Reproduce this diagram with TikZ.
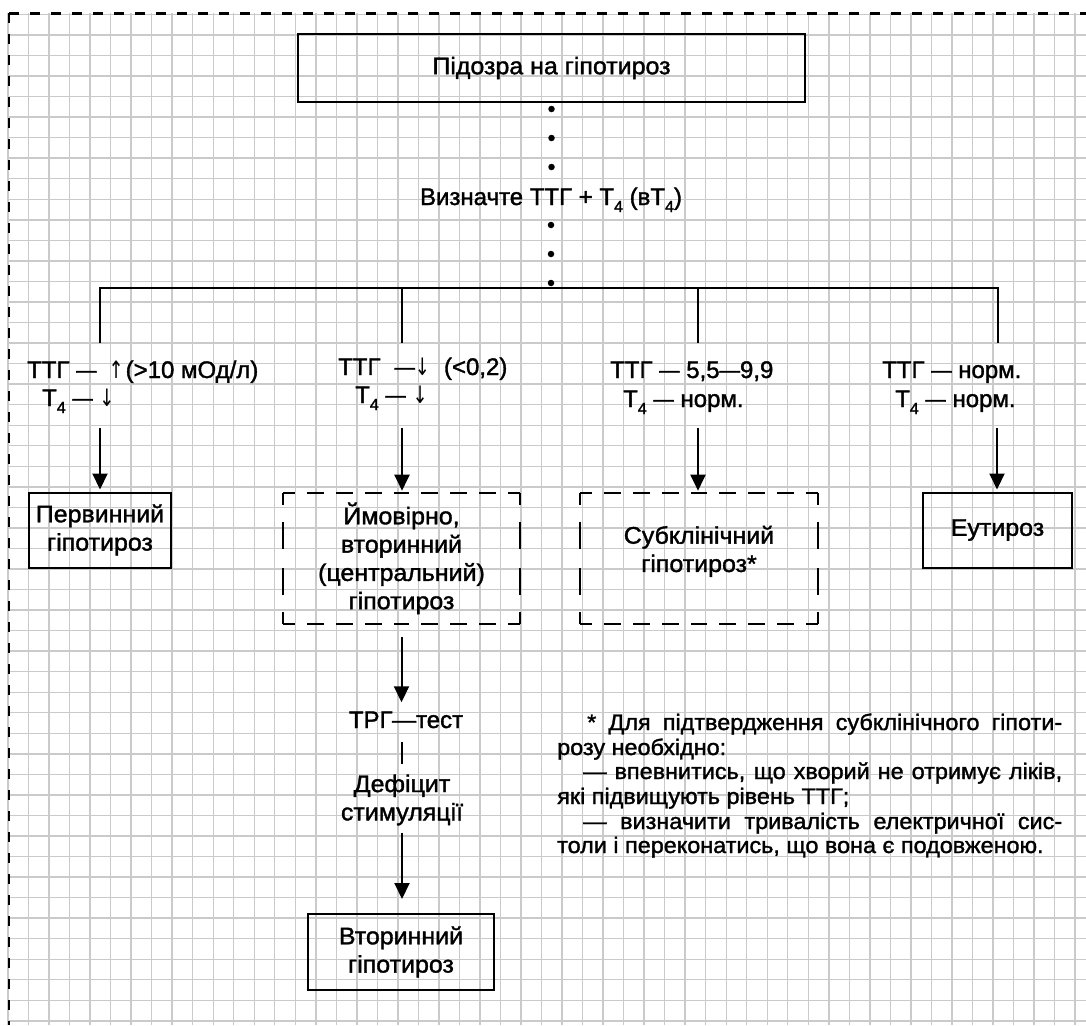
\documentclass[tikz,border=0pt]{standalone}
\usepackage{fontspec}
\usepackage{graphicx}
\setmainfont{Liberation Sans}[FakeStretch=1.04, FakeBold=1.5]
\newfontfamily\lblfont{Liberation Sans}[FakeBold=1.5]
\newfontfamily\arrfont{DejaVu Sans}
\usetikzlibrary{arrows.meta}
\definecolor{gridgray}{RGB}{202,202,202}
\newcommand\mainsz{\fontsize{24}{28.3}\selectfont}
\newcommand\notesz{\fontsize{22.5}{24.7}\selectfont}
\newcommand\Tsub{Т\raisebox{-7pt}{\fontsize{16}{16}\selectfont 4}}
\newcommand\uparr{\scalebox{0.75}[1]{\arrfont ↑}}
\newcommand\dnarr{\scalebox{0.75}[1]{\arrfont ↓}}
\newcommand\ldash{\scalebox{0.85}[1]{—}}
\begin{document}
\begin{tikzpicture}[x=1pt, y=-1pt, font=\mainsz,
  gridline/.style={draw=gridgray, line width=1.4pt},
  framedash/.style={line width=2.6pt, dash pattern=on 10pt off 11pt},
  solidbox/.style={draw, line width=2pt, align=center, inner sep=0pt},
  dashbox/.style={align=center, inner sep=0pt},
  hside/.style={line width=2pt, dash pattern=on 17pt off 12pt, dash phase=5pt},
  vside/.style={line width=2pt, dash pattern=on 27pt off 17pt, dash phase=15pt},
  conn/.style={line width=2pt},
  arr/.style={line width=2pt, -{Triangle[length=16pt,width=15pt]}},
  dotline/.style={line width=6.5pt, line cap=round, dash pattern=on 0pt off 29pt},
  lbl/.style={anchor=base west, inner sep=0pt, font=\mainsz\lblfont},
  note/.style={anchor=base west, inner sep=0pt, font=\notesz}]
\useasboundingbox (0,0) rectangle (1086,1025);
% grid paper
\foreach \i in {0,...,52} \draw[gridline] ({8+20.52*\i},13.3) -- ({8+20.52*\i},1025);
\foreach \j in {0,...,49} \draw[gridline] (9,{14.4+20.54*\j}) -- (1086,{14.4+20.54*\j});
% frame
\draw[framedash] (9,13.3) -- (1086,13.3);
\draw[framedash] (9,13.3) -- (9,1025);

% top
\node[solidbox, minimum width=507pt, minimum height=68pt] (top) at (551.5,68) {Підозра на гіпотироз};
\node[lbl, anchor=base] (q) at (551,205) {Визначте ТТГ + \Tsub{} (в\Tsub)};
\coordinate (hub) at (551,288);
\draw[dotline, dash phase=23pt] (top.south) -- (top.south |- q.north);
\draw[dotline, dash phase=24pt] (hub) -- (hub |- q.south);

% branches
\coordinate (d1) at (100,343);
\coordinate (d2) at (402,343);
\coordinate (d3) at (698,343);
\coordinate (d4) at (998,343);
\draw[conn] (d1) |- (hub) -| (d4);
\draw[conn] (d2) -- (d2 |- hub);
\draw[conn] (d3) -- (d3 |- hub);

% labels
\node[lbl] (l1a) at (27,378) {ТТГ \ldash\hspace{12pt}\uparr\hspace{2pt}(>10 мОд/л)};
\node[lbl] (l1b) at (42,406) {\Tsub{} \ldash{} \dnarr};
\node[lbl] (l2a) at (338,375) {ТТГ\hspace{14pt}\ldash\dnarr\hspace{14pt}(<0,2)};
\node[lbl] (l2b) at (355,403) {\Tsub{} \ldash{} \dnarr};
\node[lbl] (l3a) at (610,378) {ТТГ \ldash{} 5,5\ldash9,9};
\node[lbl] (l3b) at (623,407) {\Tsub{} \ldash{} норм.};
\node[lbl] (l4a) at (882,378) {ТТГ \ldash{} норм.};
\node[lbl] (l4b) at (895,407) {\Tsub{} \ldash{} норм.};

% result boxes
\node[solidbox, minimum width=142pt, minimum height=75pt] (b1) at (100,530) {Первинний\\гіпотироз};
\node[dashbox, minimum width=237pt, minimum height=131pt] (b2) at (401.5,558.4) {Ймовірно,\\вторинний\\(центральний)\\гіпотироз};
\node[dashbox, minimum width=237pt, minimum height=131pt, text depth=19pt] (b3) at (699,558.4) {Субклінічний\\гіпотироз*};
\node[solidbox, minimum width=149pt, minimum height=75pt] (b4) at (997.5,530) {Еутироз};
\node[solidbox, minimum width=186pt, minimum height=76pt] (b5) at (401,952) {Вторинний\\гіпотироз};

\foreach \n in {b2,b3} {
  \draw[hside] (\n.north west) -- (\n.north);
  \draw[hside] (\n.north east) -- (\n.north);
  \draw[hside] (\n.south west) -- (\n.south);
  \draw[hside] (\n.south east) -- (\n.south);
  \draw[vside] (\n.north west) -- (\n.west);
  \draw[vside] (\n.south west) -- (\n.west);
  \draw[vside] (\n.north east) -- (\n.east);
  \draw[vside] (\n.south east) -- (\n.east);
}

% arrows to boxes
\coordinate (s1) at (100,428);
\coordinate (s2) at (402,428);
\coordinate (s3) at (698,428);
\coordinate (s4) at (997,428);
\draw[arr, shorten >=2pt] (s1) -- (s1 |- b1.north);
\draw[arr, shorten >=2pt] (s2) -- (s2 |- b2.north);
\draw[arr, shorten >=2pt] (s3) -- (s3 |- b3.north);
\draw[arr, shorten >=2pt] (s4) -- (s4 |- b4.north);

% lower chain
\node[lbl, anchor=base] (trg) at (406,728) {ТРГ—тест};
\node[align=center, inner sep=0pt] (def) at (402,800) {Дефіцит\\стимуляції};
\draw[arr, shorten <=13pt, shorten >=9pt] (b2.south) -- (b2.south |- trg.north);
\draw[conn, shorten <=14pt, shorten >=10pt] (def.north |- trg.south) -- (def.north);
\draw[arr, shorten <=7pt, shorten >=14pt] (def.south) -- (def.south |- b5.north);

% footnote
\node[note] (fn1) at (557,730) {\makebox[505pt][s]{\hspace{30pt}* Для підтвердження субклінічного гіпоти-}};
\node[note] (fn2) at (557,755) {розу необхідно:};
\node[note] (fn3) at (557,779) {\makebox[505pt][s]{\hspace{26pt}— впевнитись, що хворий не отримує ліків,}};
\node[note] (fn4) at (557,804) {які підвищують рівень ТТГ;};
\node[note] (fn5) at (557,829) {\makebox[505pt][s]{\hspace{26pt}— визначити тривалість електричної сис-}};
\node[note] (fn6) at (557,853) {толи і переконатись, що вона є подовженою.};
\end{tikzpicture}
\end{document}
